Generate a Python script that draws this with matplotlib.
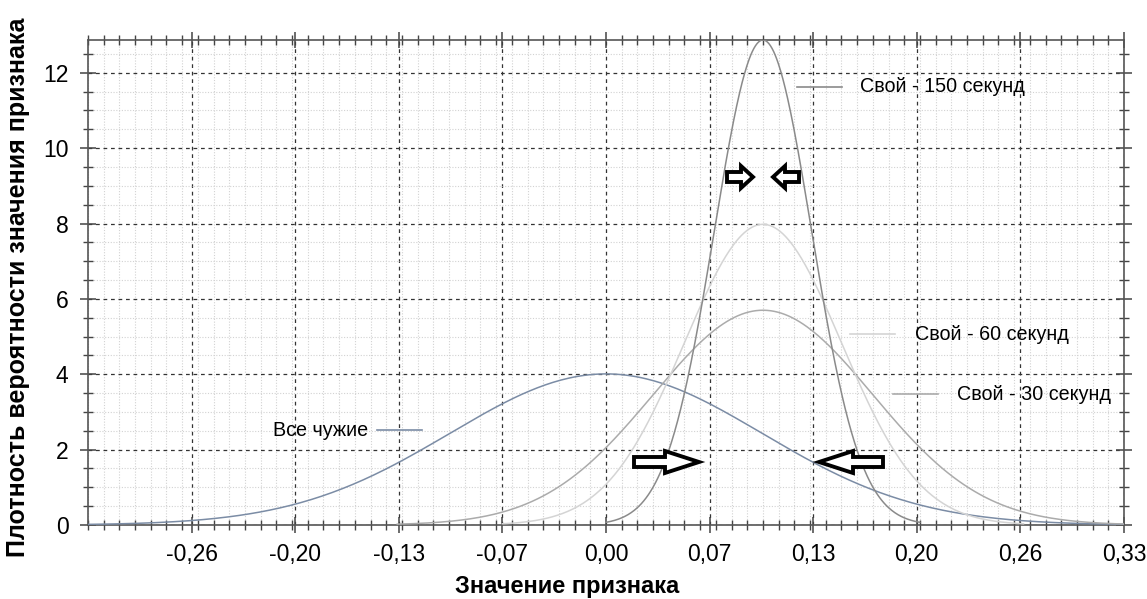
import numpy as np
import matplotlib
matplotlib.use("Agg")
import matplotlib.pyplot as plt
from matplotlib.patches import FancyArrow
from matplotlib.ticker import MultipleLocator

plt.rcParams['font.family'] = ['Liberation Sans', 'DejaVu Sans']

# curve parameters (normal densities)
names = ['Все чужие', 'Свой - 30 секунд', 'Свой - 60 секунд', 'Свой - 150 секунд']
means = [0.0, 0.1, 0.1, 0.1]
sigmas = [0.0995, 0.070, 0.050, 0.031]
x_from = [-0.33, -0.133, -0.066, 0.0]
x_to = [0.33, 0.33, 0.266, 0.2]
colors = ['#7b8ca5', '#ababab', '#d4d4d4', '#8a8a8a']

x_ticks = [-0.264, -0.198, -0.132, -0.066, 0.0, 0.066, 0.132, 0.198, 0.264, 0.33]
x_labels = ['-0,26', '-0,20', '-0,13', '-0,07', '0,00', '0,07', '0,13', '0,20', '0,26', '0,33']
y_ticks = [0, 2, 4, 6, 8, 10, 12]

W, H = 1147, 599


def px(x, y):
    """pixel position -> figure fraction"""
    return x / W, 1 - y / H


fig = plt.figure(figsize=(W / 100, H / 100), dpi=100)
ax = fig.add_axes([88 / W, 1 - 525 / H, (1124 - 88) / W, (525 - 40) / H])

for m, s, a, b, c in zip(means, sigmas, x_from, x_to, colors):
    xs = np.linspace(a, b, 400)
    ys = np.exp(-0.5 * ((xs - m) / s) ** 2) / (s * np.sqrt(2 * np.pi))
    ax.plot(xs, ys, color=c, lw=1.1, zorder=3)

ax.set_xlim(-0.33, 0.33)
ax.set_ylim(0, 12.87)
ax.set_xticks(x_ticks)
ax.set_xticklabels(x_labels)
ax.set_yticks(y_ticks)
ax.xaxis.set_minor_locator(MultipleLocator(0.01))
ax.yaxis.set_minor_locator(MultipleLocator(0.5))

ax.grid(which='major', color='#333333', ls=(0, (3, 3)), lw=0.9)
ax.grid(which='minor', color='#d2d2d2', ls=(0, (1, 1.5)), lw=0.8)
ax.set_axisbelow(True)

for sp in ax.spines.values():
    sp.set_color('#555555')
    sp.set_linewidth(1.2)

ax.tick_params(which='major', direction='inout', length=12, width=1.1, color='#444444',
               labelsize=16.5, pad=8, top=True, right=True)
ax.tick_params(which='minor', direction='inout', length=7, width=1.0, color='#444444',
               top=True, right=True)
ax.tick_params(axis='x', which='major', pad=7)

ax.set_xlabel('Значение признака', fontsize=17, fontweight='bold')
ax.set_ylabel('Плотность вероятности значения признака', fontsize=18, fontweight='bold')
ax.xaxis.set_label_coords(0.462, -0.104)
ax.yaxis.set_label_coords(-0.056, 0.49)

# curve labels with short line samples
label_pos = [(273, 430, 377, 422), (957, 394, 893, 938), (915, 334, 850, 895), (860, 87, 797, 842)]
for name, c, (tx, ty, l0, l1) in zip(names, colors, label_pos):
    fig.text(*px(tx, ty), name, fontsize=14.2, va='center', ha='left')
    p0, p1 = px(l0, ty), px(l1, ty)
    fig.add_artist(plt.Line2D([p0[0], p1[0]], [p0[1], p1[1]], color=c, lw=1.2))

# block arrows (tail x, tip x, y, head length) in pixels
arrows = [(727, 753, 177, 12), (799, 773, 177, 12), (634, 699, 462, 34), (883, 819, 462, 34)]
for x0, x1, y, hl in arrows:
    fx0, fy = px(x0, y)
    fx1, _ = px(x1, y)
    fig.add_artist(FancyArrow(fx0, fy, fx1 - fx0, 0, width=10 / H, head_width=22 / H,
                              head_length=hl / W, length_includes_head=True,
                              transform=fig.transFigure, facecolor='white',
                              edgecolor='black', lw=2.8, zorder=5))

fig.savefig('out.png', dpi=100)
